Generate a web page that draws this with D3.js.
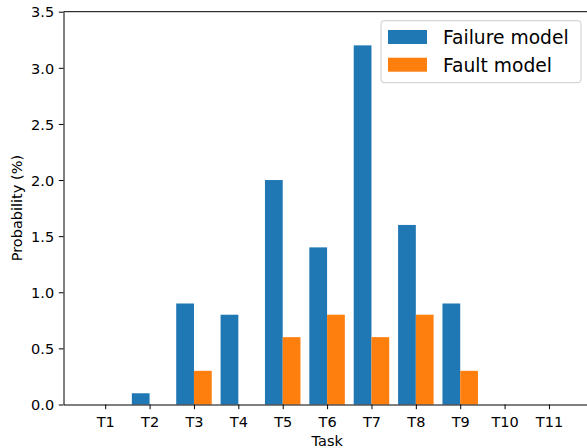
<!DOCTYPE html>
<html>
<head>
<meta charset="utf-8">
<script src="https://cdn.jsdelivr.net/npm/d3@7"></script>
<style>
  html, body { margin: 0; padding: 0; background: #fff; }
  svg { display: block; font-family: "DejaVu Sans", sans-serif; }
</style>
</head>
<body>
<svg id="chart" width="587" height="448"></svg>
<script>
const categories = ["T1","T2","T3","T4","T5","T6","T7","T8","T9","T10","T11"];
const failureValues = [0, 0.1, 0.9, 0.8, 2.0, 1.4, 3.2, 1.6, 0.9, 0, 0];
const faultValues   = [0, 0, 0.3, 0, 0.6, 0.8, 0.6, 0.8, 0.3, 0, 0];
const yTicks = [0, 0.5, 1.0, 1.5, 2.0, 2.5, 3.0, 3.5];
const seriesNames = ["Failure model", "Fault model"];
const colors = ["#1f77b4", "#ff7f0e"];

const svg = d3.select("#chart");
const mLeft = 63.5, mTop = 11.7, mBottom = 404.5;
const barW = 0.4;
const x = d3.scaleLinear().domain([-0.94, 10.94]).range([mLeft, mLeft + 11.88 * 44.375]);
const y = d3.scaleLinear().domain([0, 3.5]).range([mBottom, mTop]);

// bars
const series = [failureValues, faultValues];
series.forEach((vals, s) => {
  svg.append("g").selectAll("rect").data(vals).join("rect")
    .attr("x", (d, i) => x(i + (s === 0 ? -barW : 0)))
    .attr("width", () => x(barW) - x(0))
    .attr("y", d => y(d))
    .attr("height", d => Math.max(0, y(0) - y(d)))
    .attr("fill", colors[s]);
});

// axes
const xAxis = d3.axisBottom(x).tickValues(d3.range(categories.length))
  .tickFormat(i => categories[i]).tickSize(4.7).tickPadding(4.7).tickSizeOuter(0);
const gx = svg.append("g").attr("transform", `translate(0,${mBottom})`).call(xAxis);
gx.select(".domain").attr("stroke", "#000").attr("stroke-width", 1);
gx.selectAll(".tick line").attr("stroke", "#000").attr("stroke-width", 1);
gx.selectAll(".tick text").attr("font-size", "14.5px").attr("font-family", "DejaVu Sans")
  .attr("fill", "#000").attr("dy", null).attr("y", 22);

const yAxis = d3.axisLeft(y).tickValues(yTicks).tickFormat(d3.format(".1f"))
  .tickSize(4.7).tickPadding(4.7).tickSizeOuter(0);
const gy = svg.append("g").attr("transform", `translate(${mLeft},0)`).call(yAxis);
gy.select(".domain").attr("stroke", "#000").attr("stroke-width", 1);
gy.selectAll(".tick line").attr("stroke", "#000").attr("stroke-width", 1);
gy.selectAll(".tick text").attr("font-size", "14.5px").attr("font-family", "DejaVu Sans")
  .attr("fill", "#000").attr("dy", "0.36em");

// top spine
svg.append("line").attr("x1", mLeft).attr("x2", 587).attr("y1", mTop).attr("y2", mTop)
  .attr("stroke", "#000").attr("stroke-width", 1);

// axis labels
svg.append("text").attr("x", (mLeft + 591) / 2).attr("y", 445.5)
  .attr("text-anchor", "middle").attr("font-size", "14.5px").attr("fill", "#000").text("Task");
svg.append("text").attr("transform", `translate(21.5,${(mTop + mBottom) / 2}) rotate(-90)`)
  .attr("text-anchor", "middle").attr("font-size", "14.5px").attr("fill", "#000").text("Probability (%)");

// legend
const lg = svg.append("g");
lg.append("rect").attr("x", 381).attr("y", 20.7).attr("width", 200).attr("height", 62)
  .attr("rx", 3).attr("fill", "#fff").attr("fill-opacity", 0.8)
  .attr("stroke", "#ccc").attr("stroke-width", 1);
seriesNames.forEach((name, i) => {
  const cy = 37 + i * 27.7;
  lg.append("rect").attr("x", 388).attr("y", cy - 7).attr("width", 39).attr("height", 14).attr("fill", colors[i]);
  lg.append("text").attr("x", 443).attr("y", cy + 6.8).attr("font-size", "18.7px").attr("fill", "#000").text(name);
});
</script>
</body>
</html>
